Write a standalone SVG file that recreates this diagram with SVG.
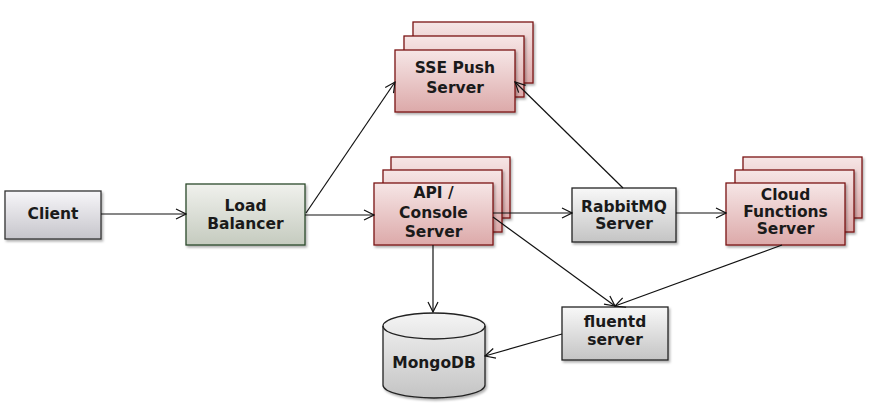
<svg xmlns="http://www.w3.org/2000/svg" width="873" height="412" viewBox="0 0 873 412">
<defs>
<linearGradient id="gRed" x1="0" y1="0" x2="0" y2="1">
<stop offset="0" stop-color="#f6e6e6"/><stop offset="1" stop-color="#dca9a9"/>
</linearGradient>
<linearGradient id="gGray" x1="0" y1="0" x2="0" y2="1">
<stop offset="0" stop-color="#f8f8f8"/><stop offset="1" stop-color="#c4c4c4"/>
</linearGradient>
<linearGradient id="gClient" x1="0" y1="0" x2="0" y2="1">
<stop offset="0" stop-color="#f7f6f9"/><stop offset="1" stop-color="#c6c5cb"/>
</linearGradient>
<linearGradient id="gGreen" x1="0" y1="0" x2="0" y2="1">
<stop offset="0" stop-color="#f0f1ed"/><stop offset="1" stop-color="#c5cbbf"/>
</linearGradient>
<linearGradient id="gCyl" x1="0" y1="0" x2="0" y2="1">
<stop offset="0" stop-color="#f4f4f4"/><stop offset="1" stop-color="#c4c4c4"/>
</linearGradient>
<filter id="sh" x="-10%" y="-10%" width="130%" height="130%">
<feDropShadow dx="1.5" dy="2" stdDeviation="1.2" flood-color="#000" flood-opacity="0.3"/>
</filter>
<marker id="arr" viewBox="0 0 12 12" refX="11" refY="6" markerWidth="12" markerHeight="12" markerUnits="userSpaceOnUse" orient="auto">
<path d="M1,1 L11,6 L1,11" fill="none" stroke="#111" stroke-width="1.2"/>
</marker>
</defs>
<style>
.red{fill:url(#gRed);stroke:#7a1515;stroke-width:1.3;filter:url(#sh)}
.gray{fill:url(#gGray);stroke:#222;stroke-width:1.3;filter:url(#sh)}
.client{fill:url(#gClient);stroke:#333;stroke-width:1.3;filter:url(#sh)}
.green{fill:url(#gGreen);stroke:#2c4a2c;stroke-width:1.3;filter:url(#sh)}
.cyl{fill:url(#gCyl);stroke:#222;stroke-width:1.3}
text{font-family:"DejaVu Sans","Liberation Sans",sans-serif;font-weight:bold;font-size:15.5px;fill:#1a1a1a;text-anchor:middle}
.c line{stroke:#111;stroke-width:1.2;marker-end:url(#arr)}
</style>
<rect width="873" height="412" fill="#fff"/>

<g id="client">
<rect class="client" x="5" y="191" width="96" height="48"/>
<text x="53" y="219">Client</text>
</g>

<g id="loadbalancer">
<rect class="green" x="186" y="184" width="119" height="61"/>
<text x="245.5" y="211">Load</text>
<text x="245.5" y="229">Balancer</text>
</g>

<g id="ssepush">
<rect class="red" x="413" y="22" width="120" height="61"/>
<rect class="red" x="404" y="36" width="120" height="61"/>
<rect class="red" x="395" y="50" width="120" height="62"/>
<text x="455" y="73">SSE Push</text>
<text x="455" y="93">Server</text>
</g>

<g id="api">
<rect class="red" x="391" y="157" width="119" height="61"/>
<rect class="red" x="383" y="170" width="119" height="62"/>
<rect class="red" x="374" y="183" width="119" height="62"/>
<text x="433.5" y="198">API /</text>
<text x="433.5" y="218">Console</text>
<text x="433.5" y="237">Server</text>
</g>

<g id="rabbitmq">
<rect class="gray" x="572" y="188" width="104" height="54"/>
<text x="624" y="212">RabbitMQ</text>
<text x="624" y="229">Server</text>
</g>

<g id="cloudfunctions">
<rect class="red" x="743" y="157" width="119" height="61"/>
<rect class="red" x="735" y="170" width="119" height="62"/>
<rect class="red" x="726" y="183" width="119" height="62"/>
<text x="785.5" y="200">Cloud</text>
<text x="785.5" y="217">Functions</text>
<text x="785.5" y="234">Server</text>
</g>

<g id="fluentd">
<rect class="gray" x="562" y="307" width="106" height="53"/>
<text x="615" y="327">fluentd</text>
<text x="615" y="345">server</text>
</g>

<g id="mongodb">
<g filter="url(#sh)">
<path class="cyl" d="M383,326 A51,13 0 0 1 485,326 L485,385 A51,13 0 0 1 383,385 Z"/>
</g>
<path d="M383,326 A51,13 0 0 0 485,326" fill="none" stroke="#222" stroke-width="1.3"/>
<text x="434" y="368">MongoDB</text>
</g>

<g class="c" id="connectors">
<line x1="101" y1="214" x2="186" y2="214"/>
<line x1="305" y1="215" x2="374" y2="215"/>
<line x1="306" y1="213" x2="395" y2="82"/>
<line x1="623" y1="188" x2="515" y2="82"/>
<line x1="493" y1="213" x2="572" y2="213"/>
<line x1="676" y1="213" x2="726" y2="213"/>
<line x1="493" y1="217" x2="615" y2="306"/>
<line x1="782" y1="245" x2="615" y2="306"/>
<line x1="433" y1="245" x2="433" y2="312"/>
<line x1="562" y1="334" x2="485" y2="356"/>
</g>
</svg>
